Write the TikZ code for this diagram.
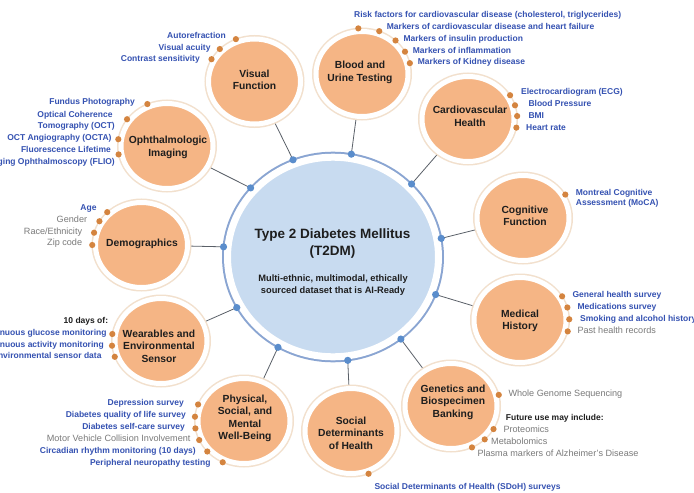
\documentclass[tikz,border=0pt]{standalone}
\usepackage{fontspec}
\setmainfont{Liberation Sans}
\usetikzlibrary{shapes.geometric}
\definecolor{ofill}{HTML}{F5B585}
\definecolor{oring}{HTML}{F2E0CD}
\definecolor{odotc}{HTML}{D4843F}
\definecolor{bfill}{HTML}{C8DBF0}
\definecolor{bring}{HTML}{8AA5D2}
\definecolor{bdotc}{HTML}{5A8DCC}
\definecolor{itblue}{HTML}{3552B2}
\definecolor{itgray}{HTML}{7A7A7A}
\definecolor{ttl}{HTML}{1E1E1E}
\definecolor{connc}{HTML}{5A6068}
\tikzset{
 sat/.style={ellipse, minimum width=92pt, minimum height=85pt, inner sep=0pt, outer sep=4pt, fill=ofill, draw=white, line width=5pt, preaction={draw=oring, line width=8pt}},
 hub/.style={ellipse, minimum width=211pt, minimum height=199.6pt, inner sep=0pt, outer sep=5.5pt, fill=bfill, draw=white, line width=7pt, preaction={draw=bring, line width=11pt}},
 ttlnode/.style={inner sep=0pt, align=center, text=ttl, font=\bfseries\fontsize{10.3}{12.5}\selectfont},
 itb/.style={inner sep=0pt, text=itblue, font=\bfseries\fontsize{8.5}{10}\selectfont, text height=6.2pt, text depth=1.8pt},
 itg/.style={inner sep=0pt, text=itgray, font=\fontsize{9.1}{10}\selectfont, text height=6.5pt, text depth=1.9pt},
 itk/.style={itb, text=ttl},
 conn/.style={draw=connc, line width=0.8pt},
 odot/.style={fill=odotc},
 bdot/.style={fill=bdotc},
}
\newcommand\orangedot[2]{\fill[odot] ([shift={(#2:49.25 and 45.75)}]#1.center) circle (3.1);}
\newcommand\hubdot[2]{\coordinate (#1) at ([shift={(#2:110 and 104.3)}]hub.center);}
\begin{document}
\begin{tikzpicture}[x=1pt,y=-1pt]
\useasboundingbox (0,0) rectangle (694,493);
\fill[white] (0,0) rectangle (694,493);
% hub
\node[hub] (hub) at (333,257) {};
% satellites
\node[sat] (vis) at (254.5,81.5) {};
\node[sat] (blood) at (362,74) {};
\node[sat] (cardio) at (468,119) {};
\node[sat] (cog) at (523,218) {};
\node[sat] (med) at (520,320) {};
\node[sat] (gen) at (451,406) {};
\node[sat] (sdoh) at (351,431) {};
\node[sat] (phys) at (244,421) {};
\node[sat] (wear) at (161,341) {};
\node[sat] (demo) at (141.5,245) {};
\node[sat] (oph) at (167,146) {};
% hub dots
\hubdot{h1}{-111.3}
\hubdot{h2}{-80.4}
\hubdot{h3}{-44.4}
\hubdot{h4}{-10.3}
\hubdot{h5}{21.1}
\hubdot{h6}{51.9}
\hubdot{h7}{82.3}
\hubdot{h8}{120}
\hubdot{h9}{151}
\hubdot{h10}{185.6}
\hubdot{h11}{-138.5}
% connectors
\draw[conn] (h1) -- (vis);
\draw[conn] (h2) -- (blood);
\draw[conn] (h3) -- (cardio);
\draw[conn] (h4) -- (cog);
\draw[conn] (h5) -- (med);
\draw[conn] (h6) -- (gen);
\draw[conn] (h7) -- (sdoh);
\draw[conn] (h8) -- (phys);
\draw[conn] (h9) -- (wear);
\draw[conn] (h10) -- (demo);
\draw[conn] (h11) -- (oph);
\foreach \h in {h1,h2,h3,h4,h5,h6,h7,h8,h9,h10,h11} {\fill[bdot] (\h) circle (3.6);}
% orange dots
\orangedot{vis}{-112.2}\orangedot{vis}{-134.8}\orangedot{vis}{-150.8}
\orangedot{blood}{-94.3}\orangedot{blood}{-69.5}\orangedot{blood}{-47.1}\orangedot{blood}{-29.2}\orangedot{blood}{-13.7}
\orangedot{cardio}{-31.3}\orangedot{cardio}{-17.4}\orangedot{cardio}{-3.7}\orangedot{cardio}{10.9}
\orangedot{cog}{-30.8}
\orangedot{med}{-31.2}\orangedot{med}{-15.9}\orangedot{med}{-0.9}\orangedot{med}{14.4}
\orangedot{gen}{-14.1}\orangedot{gen}{30.3}\orangedot{gen}{46.8}\orangedot{gen}{64.8}
\orangedot{sdoh}{69.1}
\orangedot{phys}{201.2}\orangedot{phys}{185.4}\orangedot{phys}{170.7}\orangedot{phys}{155.4}\orangedot{phys}{138.2}\orangedot{phys}{115.6}
\orangedot{wear}{188.8}\orangedot{wear}{174.1}\orangedot{wear}{159.8}
\orangedot{demo}{-134.1}\orangedot{demo}{-148.7}\orangedot{demo}{-164.4}\orangedot{demo}{180}
\orangedot{oph}{-113.5}\orangedot{oph}{-144.2}\orangedot{oph}{-171.5}\orangedot{oph}{169.4}
% hub texts
\node[inner sep=0pt, align=center, text=ttl, font=\bfseries\fontsize{13.5}{16.7}\selectfont] (hubT) at (332.5,243.4) {Type 2 Diabetes Mellitus\\(T2DM)};
\node[inner sep=0pt, align=center, text=ttl, font=\bfseries\fontsize{9.3}{11.4}\selectfont] (hubS) at (333,285) {Multi-ethnic, multimodal, ethically\\sourced dataset that is AI-Ready};
% satellite titles
\node[ttlnode] (visT) at (254.5,80) {Visual\\Function};
\node[ttlnode] (bloodT) at (360,72.5) {Blood and\\Urine Testing};
\node[ttlnode] (cardioT) at (470,116.5) {Cardiovascular\\Health};
\node[ttlnode] (cogT) at (525,216) {Cognitive\\Function};
\node[ttlnode] (medT) at (520,321) {Medical\\History};
\node[ttlnode] (genT) at (453,402) {Genetics and\\Biospecimen\\Banking};
\node[ttlnode] (sdohT) at (351,433) {Social\\Determinants\\of Health};
\node[ttlnode] (physT) at (245,418.5) {Physical,\\Social, and\\Mental\\Well-Being};
\node[ttlnode] (wearT) at (159,346) {Wearables and\\Environmental\\Sensor};
\node[ttlnode] (demoT) at (142,244) {Demographics};
\node[ttlnode] (ophT) at (168,147.5) {Ophthalmologic\\Imaging};
% visual items
\node[itb, anchor=east] (v1) at (226,36.7) {Autorefraction};
\node[itb, anchor=east] (v2) at (210.7,48.3) {Visual acuity};
\node[itb, anchor=east] (v3) at (200,59.3) {Contrast sensitivity};
% blood items
\node[itb, anchor=west] (b1) at (354,15.3) {Risk factors for cardiovascular disease (cholesterol, triglycerides)};
\node[itb, anchor=west] (b2) at (386.7,27.3) {Markers of cardiovascular disease and heart failure};
\node[itb, anchor=west] (b3) at (403.3,39.3) {Markers of insulin production};
\node[itb, anchor=west] (b4) at (412.7,51.3) {Markers of inflammation};
\node[itb, anchor=west] (b5) at (417.7,62.7) {Markers of Kidney disease};
% cardio items
\node[itb, anchor=west] (c1) at (521,92.7) {Electrocardiogram (ECG)};
\node[itb, anchor=west] (c2) at (528.3,104.7) {Blood Pressure};
\node[itb, anchor=west] (c3) at (528.3,116.7) {BMI};
\node[itb, anchor=west] (c4) at (526,128) {Heart rate};
% cognitive
\node[itb, anchor=west] (g1) at (575.7,193.3) {Montreal Cognitive};
\node[itb, anchor=west] (g2) at (575.7,203.6) {Assessment (MoCA)};
% medical
\node[itb, anchor=west] (m1) at (572.3,295.7) {General health survey};
\node[itb, anchor=west] (m2) at (577.3,307.3) {Medications survey};
\node[itb, anchor=west] (m3) at (580,319) {Smoking and alcohol history};
\node[itg, anchor=west] (m4) at (577.3,330.7) {Past health records};
% genetics
\node[itg, anchor=west] (e1) at (508.3,394.3) {Whole Genome Sequencing};
\node[itk, anchor=west] (e2) at (505.7,418.3) {Future use may include:};
\node[itg, anchor=west] (e3) at (503.3,430) {Proteomics};
\node[itg, anchor=west] (e4) at (491,441.7) {Metabolomics};
\node[itg, anchor=west] (e5) at (477.3,454) {Plasma markers of Alzheimer's Disease};
% sdoh
\node[itb, anchor=west] (s1) at (374.3,487.3) {Social Determinants of Health (SDoH) surveys};
% physical
\node[itb, anchor=east] (p1) at (184,403.3) {Depression survey};
\node[itb, anchor=east] (p2) at (186,415.7) {Diabetes quality of life survey};
\node[itb, anchor=east] (p3) at (185,427.7) {Diabetes self-care survey};
\node[itg, anchor=east] (p4) at (190.7,439.3) {Motor Vehicle Collision Involvement};
\node[itb, anchor=east] (p5) at (196,451) {Circadian rhythm monitoring (10 days)};
\node[itb, anchor=east] (p6) at (210.7,463.3) {Peripheral neuropathy testing};
% wearables
\node[itk, anchor=east] (w0) at (108.3,321.7) {10 days of:};
\node[itb, anchor=east] (w1) at (106.7,333.3) {Continuous glucose monitoring};
\node[itb, anchor=east] (w2) at (104,345) {Continuous activity monitoring};
\node[itb, anchor=east] (w3) at (101.7,356.7) {Environmental sensor data};
% demographics
\node[itb, anchor=east] (d1) at (96.7,208.3) {Age};
\node[itg, anchor=east] (d2) at (87.3,220) {Gender};
\node[itg, anchor=east] (d3) at (82.3,231.7) {Race/Ethnicity};
\node[itg, anchor=east] (d4) at (82.3,243.3) {Zip code};
% ophthalmologic
\node[itb, anchor=east] (o1) at (135,102.7) {Fundus Photography};
\node[itb, anchor=east] (o2) at (112.7,115) {Optical Coherence};
\node[itb, anchor=east] (o3) at (115,126.7) {Tomography (OCT)};
\node[itb, anchor=east] (o4) at (111.7,138.3) {OCT Angiography (OCTA)};
\node[itb, anchor=east] (o5) at (111,150) {Fluorescence Lifetime};
\node[itb, anchor=east] (o6) at (115,162.7) {Imaging Ophthalmoscopy (FLIO)};
\end{tikzpicture}
\end{document}
